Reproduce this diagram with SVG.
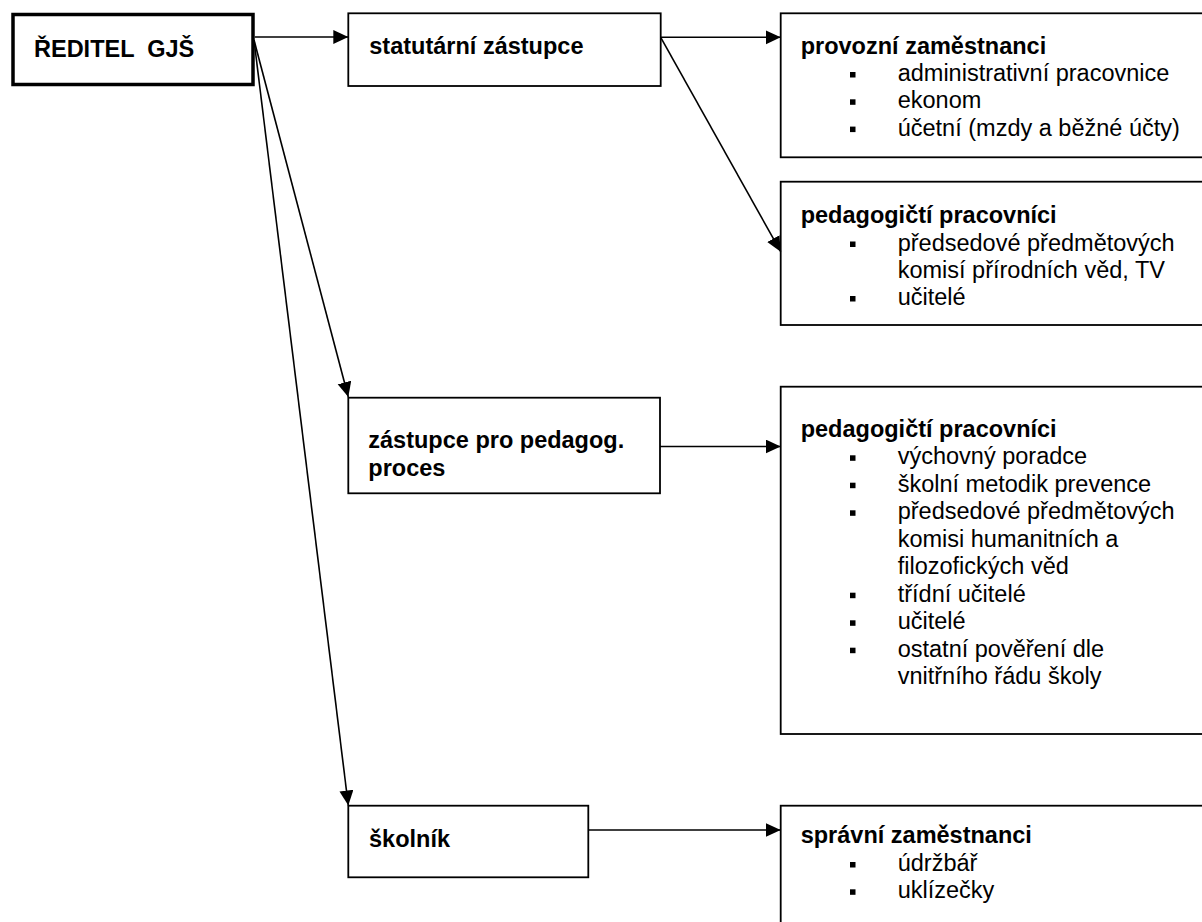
<svg xmlns="http://www.w3.org/2000/svg" width="1202" height="922" viewBox="0 0 1202 922">
<style>
text{font-family:"Liberation Sans",Arial,sans-serif;font-size:23.5px;fill:#000;white-space:pre}
.b{font-weight:bold}
.box{fill:#fff;stroke:#000;stroke-width:1.8}
.main{fill:#fff;stroke:#000;stroke-width:3.5}
.con{stroke:#000;stroke-width:1.6;fill:none;marker-end:url(#ah)}
.bul{fill:#000}
</style>
<defs>
<marker id="ah" markerUnits="userSpaceOnUse" markerWidth="16" markerHeight="15" refX="15" refY="7" orient="auto">
<path d="M0,0 L15,7 L0,14 z" fill="#000"/>
</marker>
<rect id="sq" width="5.5" height="5.5"/>
</defs>
<rect width="1202" height="922" fill="#fff"/>

<g id="n-reditel">
<rect class="main" x="13" y="14.5" width="240" height="70"/>
<text class="b" x="34" y="57">ŘEDITEL  GJŠ</text>
</g>

<g id="n-statutarni">
<rect class="box" x="348.3" y="13.3" width="312.4" height="72.7"/>
<text class="b" x="369.3" y="54.3">statutární zástupce</text>
</g>

<g id="n-provozni">
<rect class="box" x="780.7" y="13.3" width="430" height="144"/>
<text class="b" x="800.7" y="53.5">provozní zaměstnanci</text>
<use href="#sq" class="bul" x="850" y="72"/>
<text x="897.7" y="81">administrativní pracovnice</text>
<use href="#sq" class="bul" x="850" y="99.3"/>
<text x="897.7" y="108.3">ekonom</text>
<use href="#sq" class="bul" x="850" y="126.6"/>
<text x="897.7" y="135.6">účetní (mzdy a běžné účty)</text>
</g>

<g id="n-pedagogicti1">
<rect class="box" x="780.7" y="181.7" width="430" height="143.3"/>
<text class="b" x="800.7" y="223">pedagogičtí pracovníci</text>
<use href="#sq" class="bul" x="850" y="241.5"/>
<text x="897.7" y="250.5">předsedové předmětových</text>
<text x="897.7" y="277.7">komisí přírodních věd, TV</text>
<use href="#sq" class="bul" x="850" y="296"/>
<text x="897.7" y="305">učitelé</text>
</g>

<g id="n-zastupce">
<rect class="box" x="348.3" y="397.7" width="311.7" height="95.6"/>
<text class="b" x="368.3" y="448.3">zástupce pro pedagog.</text>
<text class="b" x="368.3" y="475.5">proces</text>
</g>

<g id="n-pedagogicti2">
<rect class="box" x="780.7" y="386.7" width="430" height="347.3"/>
<text class="b" x="800.7" y="437">pedagogičtí pracovníci</text>
<use href="#sq" class="bul" x="850" y="455.3"/>
<text x="897.7" y="464.3">výchovný poradce</text>
<use href="#sq" class="bul" x="850" y="482.7"/>
<text x="897.7" y="491.7">školní metodik prevence</text>
<use href="#sq" class="bul" x="850" y="510.3"/>
<text x="897.7" y="519.3">předsedové předmětových</text>
<text x="897.7" y="546.7">komisi humanitních a</text>
<text x="897.7" y="574">filozofických věd</text>
<use href="#sq" class="bul" x="850" y="592.7"/>
<text x="897.7" y="601.7">třídní učitelé</text>
<use href="#sq" class="bul" x="850" y="620.3"/>
<text x="897.7" y="629.3">učitelé</text>
<use href="#sq" class="bul" x="850" y="647.7"/>
<text x="897.7" y="656.7">ostatní pověření dle</text>
<text x="897.7" y="684">vnitřního řádu školy</text>
</g>

<g id="n-skolnik">
<rect class="box" x="348.3" y="805.7" width="240" height="71.6"/>
<text class="b" x="369" y="846.7">školník</text>
</g>

<g id="n-spravni">
<rect class="box" x="780.7" y="805.7" width="430" height="140"/>
<text class="b" x="800.7" y="843.3">správní zaměstnanci</text>
<use href="#sq" class="bul" x="850" y="862"/>
<text x="897.7" y="871">údržbář</text>
<use href="#sq" class="bul" x="850" y="889.3"/>
<text x="897.7" y="898.3">uklízečky</text>
</g>

<g id="connectors">
<line class="con" x1="254.8" y1="37" x2="348.3" y2="37"/>
<line class="con" x1="660.7" y1="37.3" x2="780.7" y2="37.3"/>
<line class="con" x1="660.7" y1="37.3" x2="780.7" y2="251.7"/>
<line class="con" x1="254" y1="40" x2="348.3" y2="397"/>
<line class="con" x1="254" y1="40" x2="348.3" y2="805.5"/>
<line class="con" x1="660" y1="446.5" x2="780.7" y2="446.5"/>
<line class="con" x1="588.3" y1="830" x2="780.7" y2="830"/>
</g>
</svg>
